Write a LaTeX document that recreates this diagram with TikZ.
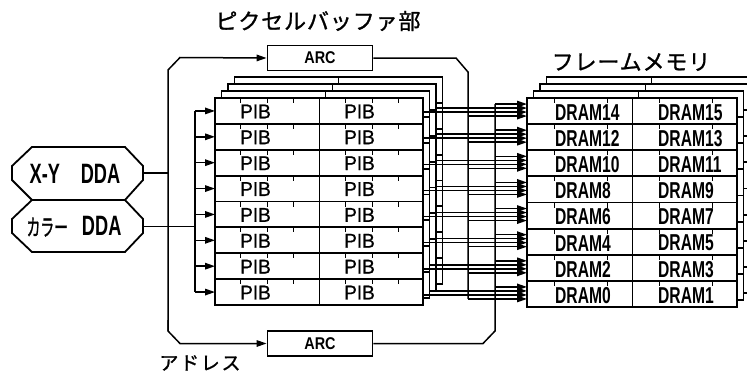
\documentclass[tikz,border=0pt]{standalone}
\usepackage{fontspec}
\usepackage{graphicx}
\setmainfont{Liberation Sans}
\newfontfamily\jp{Noto Sans CJK JP}
\usetikzlibrary{arrows.meta}
\newcommand\nrw[2][0.75]{\scalebox{#1}[1]{#2}}
\begin{document}
\begin{tikzpicture}[x=1pt,y=-1pt]
\tikzset{
  frame/.style={line width=1.8pt},
  wire/.style={line width=1.5pt},
  arr/.style={wire,-{Triangle[length=10pt,width=6.5pt]}},
  tick/.style={line width=1pt},
  arcbox/.style={draw,frame,fill=white,minimum width=105pt,minimum height=25pt,inner sep=0pt,font=\bfseries\fontsize{17}{17}\selectfont},
  pib/.style={inner sep=0pt,anchor=west,font=\fontsize{20}{20}\selectfont\addfontfeature{FakeBold=0.8}},
  dram/.style={inner sep=0pt,anchor=west,font=\bfseries\fontsize{23}{23}\selectfont},
  jpt/.style={inner sep=0pt,font=\jp\fontsize{22}{22}\selectfont\addfontfeature{LetterSpace=4,FakeBold=1.2}},
  jps/.style={inner sep=0pt,font=\jp\fontsize{19}{19}\selectfont\addfontfeature{LetterSpace=9,FakeBold=1.2}},
  dda/.style={inner sep=0pt}
}
\useasboundingbox (0,0) rectangle (747,372);
\begin{scope}
\clip (0,0) rectangle (747,372);
% ---------- PIB stack ----------
\foreach \k in {3,2,1,0} {
  \pgfmathsetmacro\dx{6.5*\k}
  \pgfmathsetmacro\dy{7*\k}
  \filldraw[fill=white,frame] (215+\dx,98-\dy) rectangle (423+\dx,305-\dy);
  \foreach \j in {1,...,7} \draw[frame] (215+\dx,98-\dy+25.875*\j) -- (423+\dx,98-\dy+25.875*\j);
  \draw[tick] (319+\dx,98-\dy) -- (319+\dx,305-\dy);
}
% ---------- DRAM stack ----------
\foreach \k in {3,2,1,0} {
  \pgfmathsetmacro\dx{6.5*\k}
  \pgfmathsetmacro\dy{7*\k}
  \filldraw[fill=white,frame] (527+\dx,98-\dy) rectangle (737+\dx,307-\dy);
  \foreach \j in {1,...,7} \draw[frame] (527+\dx,98-\dy+26.125*\j) -- (737+\dx,98-\dy+26.125*\j);
  \draw[tick] (632+\dx,98-\dy) -- (632+\dx,307-\dy);
}
\end{scope}
% ---------- rows: labels, ticks, arrows ----------
\foreach \i in {0,...,7} {
  \pgfmathsetmacro\yt{98+25.875*\i}
  \pgfmathsetmacro\yc{98+25.875*(\i+0.5)}
  \pgfmathsetmacro\ydt{98+26.125*\i}
  \pgfmathsetmacro\yd{98+26.125*(\i+0.5)}
  \pgfmathtruncatemacro\na{14-2*\i}
  \pgfmathtruncatemacro\nb{15-2*\i}
  \foreach \x in {240,267,293,345,372,398} \draw[tick] (\x,\yt) -- (\x,\yt+5);
  \foreach \x in {554,607,659,712} \draw[tick] (\x,\ydt) -- (\x,\ydt+5);
  \node[pib] (pa\i) at (240,\yc+0.5) {\nrw[0.95]{PIB}};
  \node[pib] (pb\i) at (344,\yc+0.5) {\nrw[0.95]{PIB}};
  \node[dram] (da\i) at (555,\yd+1.5) {\nrw[0.68]{DRAM\na}};
  \node[dram] (db\i) at (658,\yd+1.5) {\nrw[0.68]{DRAM\nb}};
  \coordinate (in\i) at (215,\yc);
  \coordinate (bus\i) at (195,\yc);
  \draw[arr] (bus\i) -- (in\i);
  \coordinate (sA\i) at (495,\yd-7);
  \coordinate (tA\i) at (527,\yd-7);
  \coordinate (sB\i) at (436.5,\yd-3);
  \coordinate (tB\i) at (527,\yd-3);
  \coordinate (sC\i) at (423,\yd+1);
  \coordinate (tC\i) at (527,\yd+1);
  \coordinate (sD\i) at (468,\yd+5);
  \coordinate (tD\i) at (527,\yd+5);
  \draw[arr] (sA\i) -- (tA\i);
  \draw[arr] (sB\i) -- (tB\i);
  \draw[arr] (sC\i) -- (tC\i);
  \draw[arr] (sD\i) -- (tD\i);
}
% ---------- DDA blocks ----------
\draw[frame] (32,147) -- (125,147) -- (143,166) -- (143,180) -- (125,200) -- (32,200) -- (12,180) -- (12,166) -- cycle;
\draw[frame] (32,200) -- (125,200) -- (143,219) -- (143,233) -- (125,252) -- (32,252) -- (12,233) -- (12,219) -- cycle;
\node[dda] (xy) at (75,173.5) {\nrw[0.65]{\bfseries\fontsize{28}{28}\selectfont X-Y\hspace{32pt}DDA}};
\node[dda] (col) at (74,226.5) {\nrw[0.6]{\jp\fontsize{23}{23}\selectfont\addfontfeature{FakeBold=1.5}カラー}\hspace{14pt}\nrw[0.65]{\bfseries\fontsize{28}{28}\selectfont DDA}};
\coordinate (xyE) at (143,173);
\coordinate (colE) at (143,226.5);
% ---------- ARC blocks ----------
\node[arcbox] (arcT) at (320,58) {\nrw[0.85]{ARC}};
\node[arcbox] (arcB) at (320,343.5) {\nrw[0.85]{ARC}};
% ---------- wiring ----------
\coordinate (L1) at (168,173);
\coordinate (L2) at (195,226.5);
\draw[wire] (xyE) -- (L1);
\draw[wire] (colE) -- (L2);
\draw[wire] (bus0) -- (bus7);
\draw[arr] (168,331) -- (168,70) -- (180,57.5) -- (arcT.west);
\draw[arr] (168,320) -- (168,331) -- (180,343.5) -- (arcB.west);
\draw[wire] (arcT.east) -- (456,58) -- (468,72) -- (sD7);
\draw[wire] (arcB.east) -- (483,343.5) -- (495,331) -- (sA0);
% ---------- titles ----------
\node[jpt] (t1) at (318,21) {ピクセルバッファ部};
\node[jpt] (t2) at (631,62) {フレームメモリ};
\node[jps] (t3) at (200,363) {アドレス};
\end{tikzpicture}
\end{document}
